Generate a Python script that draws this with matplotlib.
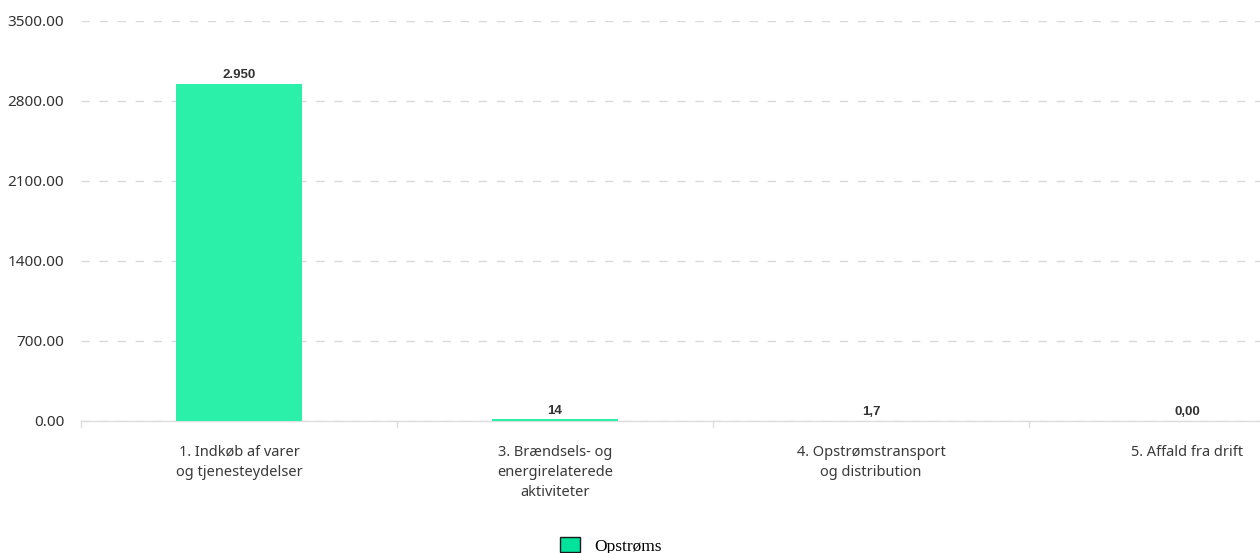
import matplotlib
matplotlib.use("Agg")
import matplotlib.pyplot as plt
from matplotlib.patches import Patch

categories = ["1. Indkøb af varer\nog tjenesteydelser",
              "3. Brændsels- og\nenergirelaterede\naktiviteter",
              "4. Opstrømstransport\nog distribution",
              "5. Affald fra drift"]
values = [2950, 14, 1.7, 0.0]
value_labels = ["2.950", "14", "1,7", "0,00"]
yticks = [0, 700, 1400, 2100, 2800, 3500]
series_name = "Opstrøms"

W, H = 1260, 553
fig = plt.figure(figsize=(W / 100, H / 100), dpi=100)
x0, x1 = 81, 1345
y0, y1 = 421, 21
ax = fig.add_axes([x0 / W, 1 - y0 / H, (x1 - x0) / W, (y0 - y1) / H])

pos = list(range(len(categories)))
ax.bar(pos, values, width=0.4, color="#2af0aa", zorder=3)
for p, v, lab in zip(pos, values, value_labels):
    ax.annotate(lab, (p, v), xytext=(0, 2), textcoords="offset points",
                ha="center", va="bottom", fontsize=9.5, fontweight="bold",
                color="#333333", family="Liberation Sans", zorder=4)

ax.set_xlim(-0.5, len(categories) - 0.5)
ax.set_ylim(0, 3500)
ax.set_yticks(yticks)
ax.set_yticklabels([f"{t:.2f}" for t in yticks], fontsize=11, color="#333333",
                   family="Noto Sans")
ax.yaxis.grid(True, color="#d9d9d9", linestyle=(0, (6, 7)), linewidth=1, zorder=0)
ax.tick_params(axis="y", length=0, pad=12)

ax.set_xticks(pos)
ax.set_xticklabels(categories, fontsize=10.5, color="#3a3a3a", family="Noto Sans",
                   linespacing=1.45)
ax.tick_params(axis="x", length=0, pad=17)
for b in [p - 0.5 for p in pos]:
    ax.plot([b, b], [0, -0.015], transform=ax.get_xaxis_transform(),
            color="#dddddd", lw=1, clip_on=False)

for s in ["top", "right", "left"]:
    ax.spines[s].set_visible(False)
ax.spines["bottom"].set_color("#dddddd")
ax.spines["bottom"].set_linewidth(1)

handle = Patch(facecolor="#00e39a", edgecolor="#1a1a1a", linewidth=1)
fig.legend([handle], [series_name], loc="center", bbox_to_anchor=(611 / W, 1 - 546 / H),
           frameon=False, prop={"family": "Liberation Serif", "size": 12.5},
           handlelength=1.15, handleheight=0.9, handletextpad=0.8)

fig.savefig("out.png", dpi=100)
